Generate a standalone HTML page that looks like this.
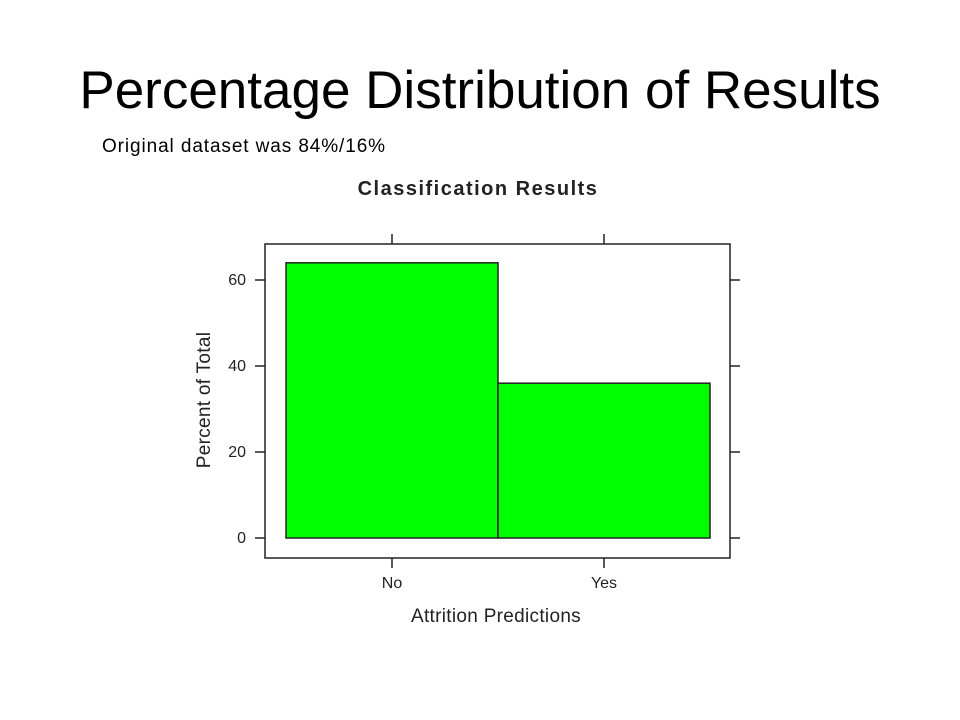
<!DOCTYPE html>
<html><head><meta charset="utf-8"><style>
body{margin:0;background:#fff;}
#wrap{position:relative;width:960px;height:720px;overflow:hidden;font-family:"Liberation Sans",sans-serif;}
h1{position:absolute;left:0;width:960px;top:60px;margin:0;text-align:center;font-weight:normal;font-size:53px;color:#000;}
.sub{position:absolute;left:102px;top:136px;font-size:19px;letter-spacing:0.9px;color:#000;}
</style></head><body>
<div id="wrap">
<h1>Percentage Distribution of Results</h1>
<div class="sub">Original dataset was 84%/16%</div>
<svg id="chart" width="960" height="720" style="position:absolute;left:0;top:0"></svg>
</div>
<script>
const categories=["No","Yes"];
const values=[64,36];
const yTicks=[0,20,40,60];
const NS="http://www.w3.org/2000/svg";
const svg=document.getElementById('chart');
const px0=265,px1=730,py0=244,py1=558;
const yBase=538,yPerUnit=(538-280)/60;
function y(v){return yBase-v*yPerUnit;}
const barL=286,barW=212;
function xl(i){return barL+i*barW;}
function add(tag,attrs,text){const e=document.createElementNS(NS,tag);for(const k in attrs)e.setAttribute(k,attrs[k]);if(text!==undefined)e.textContent=text;svg.appendChild(e);return e;}
const title=add('text',{x:478,y:195,'text-anchor':'middle','font-size':20,'letter-spacing':1.5,'font-weight':'bold','fill':'#222','font-family':'Liberation Sans, sans-serif'},'Classification Results');


categories.forEach((c,i)=>{
  const r=add('rect',{x:xl(i),y:y(values[i]),width:barW,height:y(0)-y(values[i]),fill:'#00ff00',stroke:'#222','stroke-width':1.5});
  
  
  const cx=xl(i)+barW/2;
  const t1=add('line',{x1:cx,x2:cx,y1:py0-10,y2:py0,stroke:'#222','stroke-width':1.5});
  
  
  const t2=add('line',{x1:cx,x2:cx,y1:py1,y2:py1+10,stroke:'#222','stroke-width':1.5});
  
  
  const lb=add('text',{x:cx,y:588,'text-anchor':'middle','font-size':16,fill:'#222','font-family':'Liberation Sans, sans-serif'},c);
  
  
});
yTicks.forEach(v=>{
  const yy=y(v);
  const a=add('line',{x1:px0-10,x2:px0,y1:yy,y2:yy,stroke:'#222','stroke-width':1.5});
  
  
  const b=add('line',{x1:px1,x2:px1+10,y1:yy,y2:yy,stroke:'#222','stroke-width':1.5});
  
  
  const t=add('text',{x:246,y:yy+5,'text-anchor':'end','font-size':16,fill:'#222','font-family':'Liberation Sans, sans-serif'},String(v));
  
  
});
const frame=add('rect',{x:px0,y:py0,width:px1-px0,height:py1-py0,fill:'none',stroke:'#222','stroke-width':1.5});


const xt=add('text',{x:496,y:622,'text-anchor':'middle','font-size':19,'letter-spacing':0.3,fill:'#222','font-family':'Liberation Sans, sans-serif'},'Attrition Predictions');


const yt=add('text',{x:0,y:0,'text-anchor':'middle','font-size':19,'letter-spacing':0.3,fill:'#222','font-family':'Liberation Sans, sans-serif',transform:'translate(210,400) rotate(-90)'},'Percent of Total');


</script>
</body></html>
